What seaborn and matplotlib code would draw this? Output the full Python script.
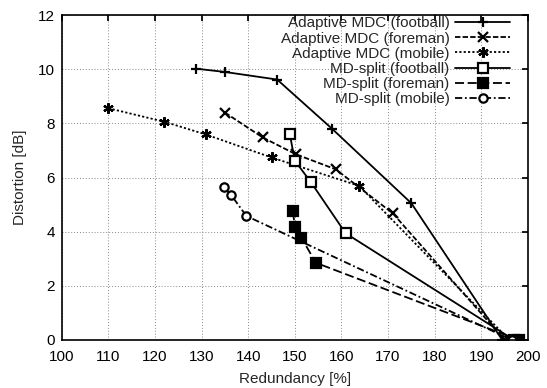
import matplotlib
matplotlib.use("Agg")
import matplotlib.pyplot as plt
import seaborn as sns
import pandas as pd

sns.set_theme(style="white")
plt.rcParams['font.family'] = ['Liberation Sans', 'DejaVu Sans']

labels = ["Adaptive MDC (football)", "Adaptive MDC (foreman)", "Adaptive MDC (mobile)",
          "MD-split (football)", "MD-split (foreman)", "MD-split (mobile)"]

ad_football_x = [128.9, 135.0, 146.2, 158.0, 175.0, 194.5]
ad_football_y = [10.02, 9.9, 9.62, 7.8, 5.05, 0.0]
ad_foreman_x = [135.0, 143.1, 150.2, 158.8, 171.0, 195.0]
ad_foreman_y = [8.4, 7.48, 6.86, 6.3, 4.68, 0.0]
ad_mobile_x = [110.0, 122.0, 130.9, 145.0, 163.8, 196.0]
ad_mobile_y = [8.56, 8.06, 7.59, 6.74, 5.69, 0.0]
md_football_x = [148.9, 150.0, 153.4, 160.9, 197.0]
md_football_y = [7.62, 6.62, 5.84, 3.94, 0.0]
md_foreman_x = [149.5, 150.1, 151.4, 154.5, 198.0]
md_foreman_y = [4.75, 4.18, 3.78, 2.85, 0.0]
md_mobile_x = [134.8, 134.8, 136.3, 139.6, 196.5]
md_mobile_y = [5.88, 5.41, 5.36, 4.58, 0.0]

xs = [ad_football_x, ad_foreman_x, ad_mobile_x, md_football_x, md_foreman_x, md_mobile_x]
ys = [ad_football_y, ad_foreman_y, ad_mobile_y, md_football_y, md_foreman_y, md_mobile_y]

styles = [
    dict(marker="+", ls="-", ms=7, mfc="black"),
    dict(marker="x", ls=(0, (3, 1.2)), ms=6.5, mfc="black"),
    dict(marker=(6, 2, 0), ls=(0, (1.2, 1.2)), ms=7.5, mfc="black"),
    dict(marker="s", ls="-", ms=6.5, mfc="white"),
    dict(marker="s", ls=(0, (5, 2)), ms=6.5, mfc="black"),
    dict(marker="o", ls=(0, (4, 1.5, 1, 1.5)), ms=6, mfc="white"),
]

fig = plt.figure(figsize=(5.47, 3.88), dpi=100)
ax = fig.add_axes([0.113, 0.124, 0.852, 0.837])

for lab, x, y, st in zip(labels, xs, ys, styles):
    df = pd.DataFrame({"x": x, "y": y})
    sns.lineplot(data=df, x="x", y="y", sort=False, ax=ax, color="black",
                 linestyle=st["ls"], marker=st["marker"], markersize=st["ms"],
                 markerfacecolor=st["mfc"], markeredgecolor="black",
                 markeredgewidth=1.6, linewidth=1.3, label=lab)

ax.set_xlim(100, 200)
ax.set_ylim(0, 12)
ax.set_xticks(range(100, 201, 10))
ax.set_yticks(range(0, 13, 2))
ax.grid(True, color="#888888", linestyle=(0, (1, 2)), linewidth=0.7)
ax.tick_params(direction="in", top=True, right=True, length=4, labelsize=11, colors="black")
ax.tick_params(axis="x", pad=7)
ax.tick_params(axis="y", pad=5)
for s in ax.spines.values():
    s.set_color("black")
    s.set_linewidth(1.2)
ax.set_xlabel("Redundancy [%]", fontsize=11, labelpad=6)
ax.set_ylabel("Distortion [dB]", fontsize=11, labelpad=8)

leg = ax.legend(loc="upper right", bbox_to_anchor=(0.975, 1.015), frameon=False,
                markerfirst=False, fontsize=11, handlelength=3.6, labelspacing=0.08,
                borderaxespad=0.0, handletextpad=0.35)

fig.savefig("out.png", dpi=100)
